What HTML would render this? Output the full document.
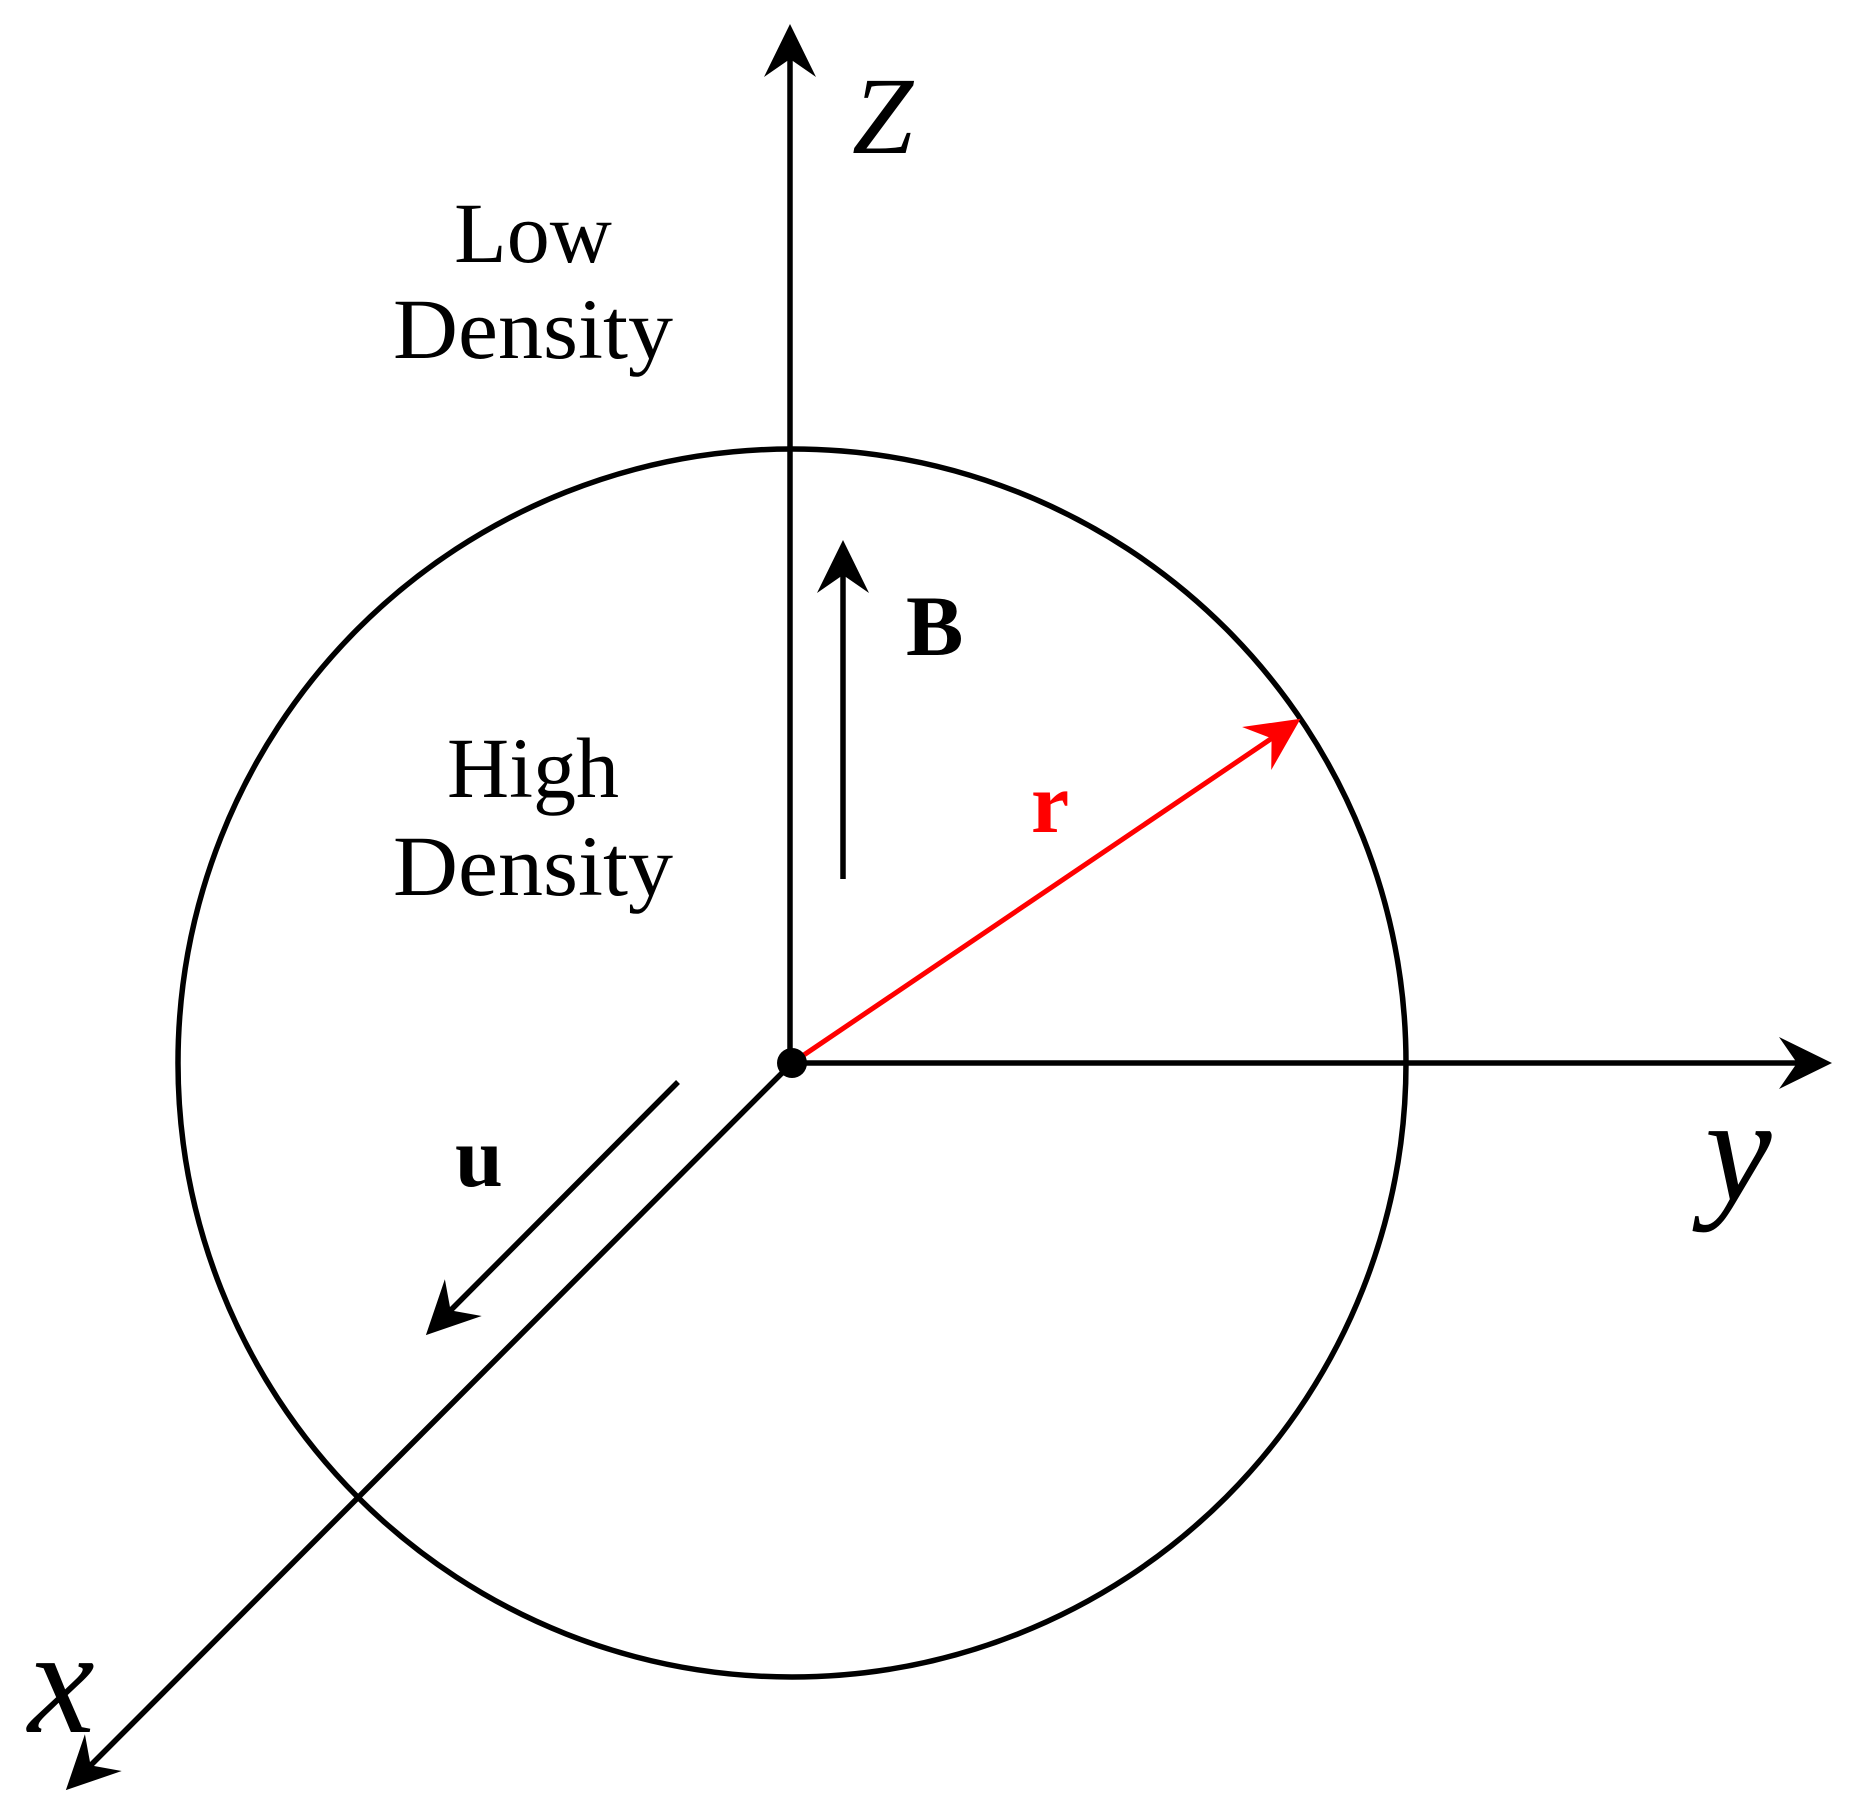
<!DOCTYPE html>
<html><head><meta charset="utf-8"><style>html,body{margin:0;padding:0;background:#fff}svg{display:block}</style></head>
<body>
<svg width="1859" height="1816" viewBox="0 0 1859 1816" xmlns="http://www.w3.org/2000/svg">
<defs>
<marker id="ah" markerUnits="userSpaceOnUse" markerWidth="80" markerHeight="80" refX="0" refY="0" viewBox="-40 -40 80 80" orient="auto" overflow="visible">
<path d="M20,0 L-33,-26 L-15,0 L-33,26 Z" fill="#000"/>
</marker>
<marker id="ahr" markerUnits="userSpaceOnUse" markerWidth="80" markerHeight="80" refX="0" refY="0" viewBox="-40 -40 80 80" orient="auto" overflow="visible">
<path d="M20,0 L-33,-26 L-15,0 L-33,26 Z" fill="#f00"/>
</marker>
</defs>
<circle cx="792" cy="1063" r="614" fill="none" stroke="#000" stroke-width="5.5"/>
<g stroke="#000" stroke-width="5.5" fill="none">
<line x1="790" y1="1063" x2="790" y2="44" marker-end="url(#ah)"/>
<line x1="792" y1="1063" x2="1812" y2="1063" marker-end="url(#ah)"/>
<line x1="792" y1="1063" x2="80" y2="1776" marker-end="url(#ah)"/>
<line x1="843" y1="879" x2="843" y2="560" marker-end="url(#ah)"/>
<line x1="678" y1="1082" x2="440" y2="1321" marker-end="url(#ah)"/>
</g>
<line x1="792" y1="1063" x2="1284" y2="730" stroke="#f00" stroke-width="5" marker-end="url(#ahr)"/>
<circle cx="792" cy="1063" r="15" fill="#000"/>
<g font-family="Liberation Serif, serif" fill="#000">
<text x="533" y="262" font-size="86" text-anchor="middle">Low</text>
<text x="393" y="358" font-size="86" textLength="280" lengthAdjust="spacingAndGlyphs">Density</text>
<text x="533" y="797" font-size="86" text-anchor="middle">High</text>
<text x="393" y="895" font-size="86" textLength="280" lengthAdjust="spacingAndGlyphs">Density</text>
<text x="906" y="655" font-size="86" font-weight="bold">B</text>
<text x="1031" y="832" font-size="86" font-weight="bold" fill="#f00">r</text>
<text x="455" y="1186" font-size="86" font-weight="bold">u</text>
<text x="852" y="153" font-size="110" font-style="italic">Z</text>
<text x="1705" y="1200" font-size="150" font-style="italic">y</text>
<text x="28" y="1732" font-size="150" font-style="italic">x</text>
</g>
</svg>
</body></html>
